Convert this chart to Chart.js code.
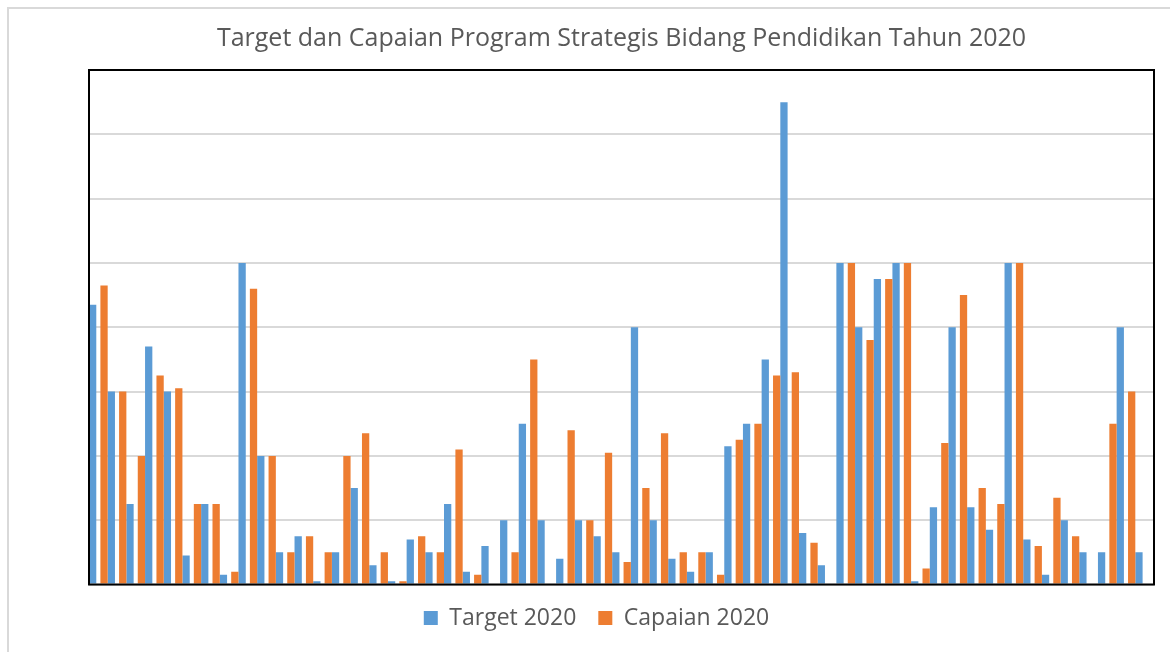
<!DOCTYPE html>
<html lang="id">
  <head>
    <meta charset="UTF-8" />
    <meta name="viewport" content="width=device-width, initial-scale=1.0" />
    <script src="https://cdn.jsdelivr.net/npm/chart.js"></script>
    <title>Target dan Capaian Program Strategis Bidang Pendidikan Tahun 2020</title>
    <style>
      html, body { margin: 0; padding: 0; background: #fff; }
      #wrap { position: relative; width: 1170px; height: 652px; }
    </style>
  </head>
  <body>
    <div id="wrap">
      <canvas id="myChart" width="1170" height="652"></canvas>
    </div>

    <script>
      // Program categories (no names shown on the axis)
      const categories = [
        "1", "2", "3", "4", "5", "6", "7", "8", "9", "10",
        "11", "12", "13", "14", "15", "16", "17", "18", "19", "20",
        "21", "22", "23", "24", "25", "26", "27", "28", "29", "30",
        "31", "32", "33", "34", "35", "36", "37", "38", "39", "40",
        "41", "42", "43", "44", "45", "46", "47", "48", "49", "50",
        "51", "52", "53", "54", "55", "56", "57", "58",
      ];

      // Target 2020 (blue)
      const target2020 = [
        43.5, 30, 12.5, 37, 30, 4.5, 12.5, 1.5, 50, 20,
        5, 7.5, 0.5, 5, 15, 3, 0.5, 7, 5, 12.5,
        2, 6, 10, 25, 10, 4, 10, 7.5, 5, 40,
        10, 4, 2, 5, 21.5, 25, 35, 75, 8, 3,
        50, 40, 47.5, 50, 0.5, 12, 40, 12, 8.5, 50,
        7, 1.5, 10, 5, 5, 40, 5, null,
      ];

      // Capaian 2020 (orange)
      const capaian2020 = [
        null, 46.5, 30, 20, 32.5, 30.5, 12.5, 12.5, 2, 46,
        20, 5, 7.5, 5, 20, 23.5, 5, 0.5, 7.5, 5,
        21, 1.5, 0, 5, 35, 0, 24, 10, 20.5, 3.5,
        15, 23.5, 5, 5, 1.5, 22.5, 25, 32.5, 33, 6.5,
        0, 50, 38, 47.5, 50, 2.5, 22, 45, 15, 12.5,
        50, 6, 13.5, 7.5, 0, 25, 30, null,
      ];

      const yTicks = [0, 10, 20, 30, 40, 50, 60, 70, 80];

      // white background, light outer border and black plot frame
      const framePlugin = {
        id: "frame",
        beforeDraw(chart) {
          const ctx = chart.ctx;
          ctx.save();
          ctx.fillStyle = "#ffffff";
          ctx.fillRect(0, 0, chart.width, chart.height);
          ctx.strokeStyle = "#d9d9d9";
          ctx.lineWidth = 2;
          ctx.beginPath();
          ctx.moveTo(8, chart.height);
          ctx.lineTo(8, 8);
          ctx.lineTo(chart.width, 8);
          ctx.stroke();
          ctx.restore();
        },
        afterDatasetsDraw(chart) {
          const a = chart.chartArea;
          const ctx = chart.ctx;
          ctx.save();
          ctx.strokeStyle = "#000000";
          ctx.lineWidth = 2;
          ctx.strokeRect(a.left, a.top, a.right - a.left, a.bottom - a.top);
          ctx.restore();
        },
      };

      const config = {
        type: "bar",
        data: {
          labels: categories,
          datasets: [
            {
              label: "Capaian 2020",
              data: capaian2020,
              backgroundColor: "#ed7d31",
              borderWidth: 0,
              clip: 0,
            },
            {
              label: "Target 2020",
              data: target2020,
              backgroundColor: "#5b9bd5",
              borderWidth: 0,
              clip: 0,
            },
          ],
        },
        options: {
          responsive: false,
          animation: false,
          devicePixelRatio: 1,
          categoryPercentage: 0.78,
          barPercentage: 1.0,
          layout: {
            padding: { left: 39, right: 16, top: 0, bottom: 12.5 },
          },
          scales: {
            x: {
              offset: false,
              grid: { display: false, drawTicks: false },
              ticks: { display: false },
              border: { display: false },
            },
            y: {
              min: 0,
              max: 80,
              afterBuildTicks: (axis) => {
                axis.ticks = yTicks.map((v) => ({ value: v }));
              },
              afterFit: (axis) => {
                axis.width = 50;
              },
              grid: { color: "#d9d9d9", lineWidth: 2, drawTicks: false },
              ticks: { display: false },
              border: { display: false },
            },
          },
          plugins: {
            title: {
              display: true,
              fullSize: false,
              text: "Target dan Capaian Program Strategis Bidang Pendidikan Tahun 2020",
              color: "#595959",
              font: { family: "'Open Sans', sans-serif", size: 25, weight: "normal" },
              padding: { top: 24, bottom: 16 },
            },
            legend: {
              position: "bottom",
              reverse: true,
              labels: {
                color: "#595959",
                font: { family: "'Open Sans', sans-serif", size: 23 },
                boxWidth: 14,
                boxHeight: 14,
                padding: 22,
              },
            },
            tooltip: { enabled: false },
          },
        },
        plugins: [framePlugin],
      };

      new Chart(document.getElementById("myChart"), config);
    </script>
  </body>
</html>
